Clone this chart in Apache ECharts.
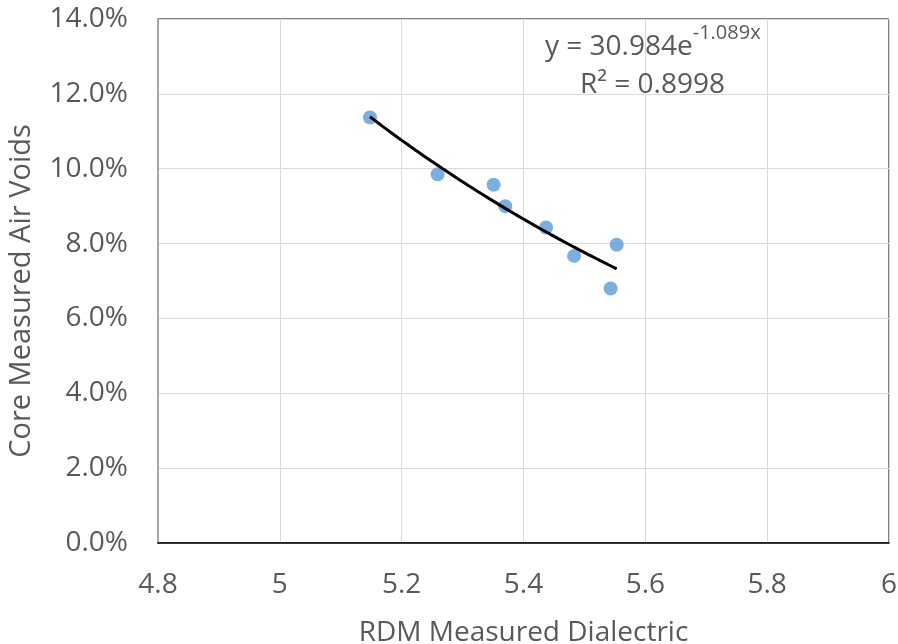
<!DOCTYPE html>
<html>
<head>
<meta charset="utf-8">
<script src="https://cdn.jsdelivr.net/npm/echarts@6/dist/echarts.min.js"></script>
<style>
  html, body { margin: 0; padding: 0; background: #fff; }
  #chart { width: 898px; height: 644px; }
</style>
</head>
<body>
<div id="chart"></div>
<script>
// RDM dielectric readings vs. core air voids
const dielectric = [5.148, 5.259, 5.351, 5.370, 5.437, 5.483, 5.553, 5.543];
const airVoids   = [0.1137, 0.0985, 0.0957, 0.0900, 0.0843, 0.0767, 0.0797, 0.0680];

// Exponential trendline y = a * e^(b x), R²
const trendA = 30.984;
const trendB = -1.089;
const trendR2 = 0.8998;

// Axis ticks
const xTicks = [4.8, 5, 5.2, 5.4, 5.6, 5.8, 6];
const xTickLabels = ['4.8', '5', '5.2', '5.4', '5.6', '5.8', '6'];
const yTicks = [0, 0.02, 0.04, 0.06, 0.08, 0.10, 0.12, 0.14];
const yTickLabels = ['0.0%', '2.0%', '4.0%', '6.0%', '8.0%', '10.0%', '12.0%', '14.0%'];

function tickLabel(ticks, labels, v) {
  let best = 0;
  for (let i = 1; i < ticks.length; i++) {
    if (Math.abs(ticks[i] - v) < Math.abs(ticks[best] - v)) best = i;
  }
  return labels[best];
}

// Trendline samples across the measured range
const xMin = Math.min(...dielectric), xMax = Math.max(...dielectric);
const trendPts = [];
const steps = 60;
for (let i = 0; i <= steps; i++) {
  const x = xMin + (xMax - xMin) * i / steps;
  trendPts.push([x, trendA * Math.exp(trendB * x)]);
}

const points = dielectric.map((x, i) => [x, airVoids[i]]);

const textColor = '#595959';
const font = '"Open Sans", "Liberation Sans", sans-serif';

const chart = echarts.init(document.getElementById('chart'), null, { renderer: 'canvas' });
chart.setOption({
  animation: false,
  backgroundColor: '#ffffff',
  grid: {
    left: 158, right: 9, top: 19, bottom: 101,
    show: true, borderColor: '#000000', borderWidth: 1,
    containLabel: false, outerBoundsMode: 'none'
  },
  xAxis: {
    type: 'value',
    min: xTicks[0], max: xTicks[xTicks.length - 1],
    interval: xTicks[1] - xTicks[0],
    name: 'RDM Measured Dialectric',
    nameLocation: 'middle',
    nameGap: 76,
    nameTextStyle: { color: textColor, fontSize: 28, fontFamily: font },
    axisLine: { show: true, lineStyle: { color: '#000000', width: 1.5 } },
    axisTick: { show: false },
    axisLabel: {
      color: textColor, fontSize: 28, fontFamily: font, margin: 28,
      formatter: v => tickLabel(xTicks, xTickLabels, v)
    },
    splitLine: { show: true, lineStyle: { color: '#d9d9d9', width: 1 } }
  },
  yAxis: {
    type: 'value',
    min: yTicks[0], max: yTicks[yTicks.length - 1],
    interval: yTicks[1] - yTicks[0],
    name: 'Core Measured Air Voids',
    nameLocation: 'middle',
    nameGap: 122,
    nameTextStyle: { color: textColor, fontSize: 29, fontFamily: font, padding: [0, 20, 0, 0] },
    axisLine: { show: true, lineStyle: { color: '#a6a6a6', width: 2 } },
    axisTick: { show: false },
    axisLabel: {
      color: textColor, fontSize: 28, fontFamily: font, margin: 30,
      formatter: v => tickLabel(yTicks, yTickLabels, v)
    },
    splitLine: { show: true, lineStyle: { color: '#d9d9d9', width: 1 } }
  },
  series: [
    {
      type: 'line',
      name: 'Trend',
      data: trendPts,
      showSymbol: false,
      smooth: false,
      lineStyle: { color: '#000000', width: 3 },
      z: 3
    },
    {
      type: 'scatter',
      name: 'Air Voids',
      data: points,
      symbol: 'circle',
      symbolSize: 14,
      itemStyle: { color: '#5b9bd5' },
      z: 2
    }
  ],
  graphic: [
    {
      type: 'text', left: 545, top: 23, z: 10,
      style: {
        text: '{m|y = ' + trendA.toFixed(3) + 'e}{s|' + trendB.toFixed(3) + 'x}',
        rich: {
          m: { fontSize: 28, fontFamily: font, fill: textColor, lineHeight: 38, verticalAlign: 'bottom' },
          s: { fontSize: 20, fontFamily: font, fill: textColor, lineHeight: 38, verticalAlign: 'top' }
        }
      }
    },
    {
      type: 'text', left: 580, top: 71, z: 10,
      style: {
        text: 'R² = ' + trendR2.toFixed(4),
        fontSize: 28, fontFamily: font, fill: textColor
      }
    }
  ]
});
</script>
</body>
</html>
